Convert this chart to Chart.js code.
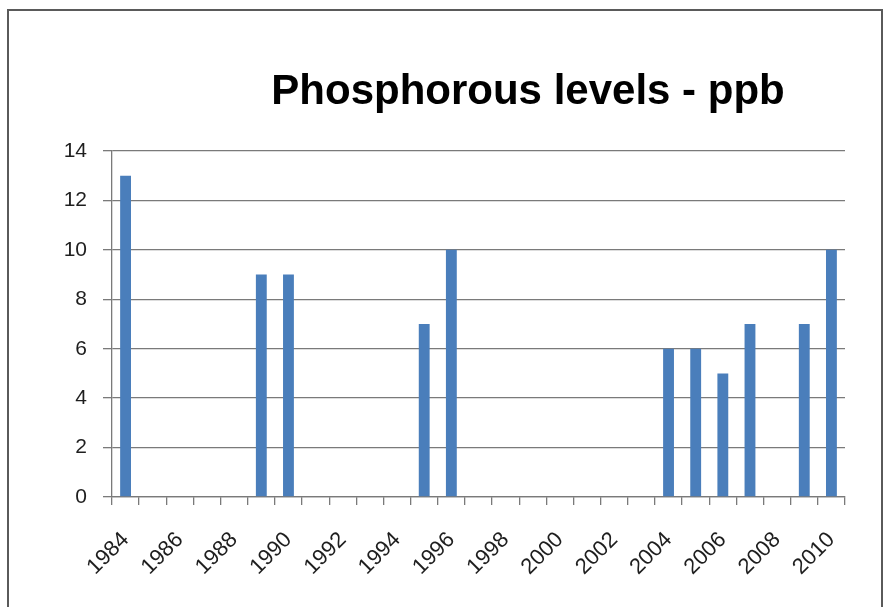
<!DOCTYPE html>
<html>
<head>
<meta charset="utf-8">
<script src="https://cdn.jsdelivr.net/npm/chart.js@4/dist/chart.umd.min.js"></script>
<style>
html,body{margin:0;padding:0;background:#fff;}
#wrap{position:relative;width:884px;height:607px;}
</style>
</head>
<body>
<div id="wrap"><canvas id="c" width="884" height="607"></canvas></div>
<script>
const titleText = "Phosphorous levels - ppb";
const years = ["1984","1985","1986","1987","1988","1989","1990","1991","1992","1993","1994","1995","1996","1997","1998","1999","2000","2001","2002","2003","2004","2005","2006","2007","2008","2009","2010"];
const phosphorus = [13,null,null,null,null,9,9,null,null,null,null,7,10,null,null,null,null,null,null,null,6,6,5,7,null,7,10];
const yTicks = [0,2,4,6,8,10,12,14];

const frame = {
  id: 'frame',
  beforeDraw(chart) {
    const ctx = chart.ctx;
    ctx.save();
    ctx.fillStyle = '#ffffff';
    ctx.fillRect(0,0,chart.width,chart.height);
    ctx.strokeStyle = '#5a5a5a';
    ctx.lineWidth = 2;
    ctx.beginPath();
    ctx.moveTo(8, 607);
    ctx.lineTo(8, 10);
    ctx.lineTo(882, 10);
    ctx.lineTo(882, 607);
    ctx.stroke();
    ctx.restore();
  },
  afterDraw(chart) {
    const ctx = chart.ctx;
    ctx.save();
    ctx.fillStyle = '#000000';
    ctx.font = 'bold 42px "Liberation Sans", Arial, sans-serif';
    ctx.textAlign = 'center';
    ctx.textBaseline = 'middle';
    ctx.fillText(titleText, 528, 92);
    ctx.restore();
  }
};

new Chart(document.getElementById('c'), {
  type: 'bar',
  data: {
    labels: years,
    datasets: [{
      data: phosphorus,
      backgroundColor: '#4a7ebb',
      borderWidth: 0,
      categoryPercentage: 1.0,
      barPercentage: 0.4
    }]
  },
  options: {
    responsive: false,
    animation: false,
    devicePixelRatio: 1,
    layout: { padding: { left: 0, right: 39, top: 151, bottom: 0 } },
    plugins: { legend: { display: false }, title: { display: false }, tooltip: { enabled: false } },
    scales: {
      x: {
        offset: true,
        grid: { offset: true, drawOnChartArea: false, drawTicks: true, tickLength: 8, color: '#7a7a7a', lineWidth: 1.3 },
        border: { display: true, color: '#7a7a7a', width: 1.3 },
        ticks: {
          autoSkip: false,
          maxRotation: 45,
          minRotation: 45,
          padding: 22,
          color: '#1e1e1e',
          font: { size: 22, family: '"Liberation Sans", Arial, sans-serif' },
          callback: function(v, i) { return i % 2 === 0 ? years[i] : ''; }
        },
        afterFit(scale) { scale.height = 110; }
      },
      y: {
        min: 0,
        max: 14,
        afterBuildTicks(scale) { scale.ticks = yTicks.map(v => ({ value: v })); },
        grid: { color: '#7a7a7a', lineWidth: 1.3, drawTicks: true, tickLength: 9 },
        border: { display: true, color: '#7a7a7a', width: 1.3 },
        ticks: {
          color: '#1e1e1e',
          padding: 16,
          font: { size: 21, family: '"Liberation Sans", Arial, sans-serif' }
        },
        afterFit(scale) { scale.width = 112; }
      }
    }
  },
  plugins: [frame]
});
</script>
</body>
</html>
